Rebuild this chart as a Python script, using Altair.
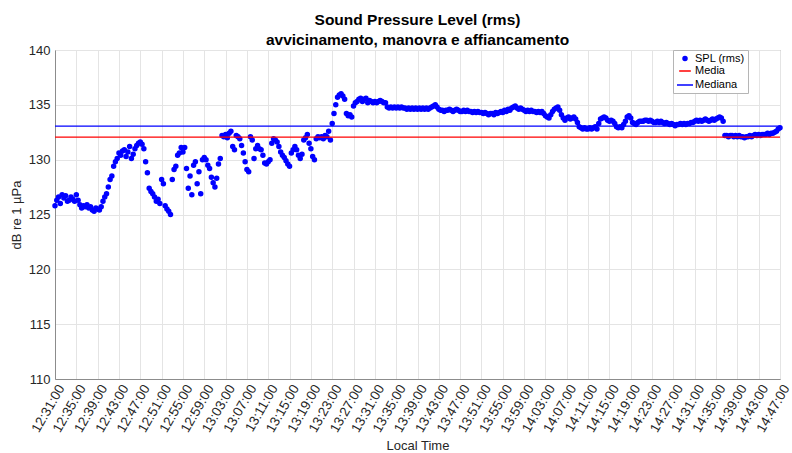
import altair as alt
import pandas as pd

# SPL (rms) readings in dB re 1 µPa, one sample every 20 s starting 12:31:00
spl_1231_1259 = [
    125.8, 126.3, 126.6, 126.0, 126.8, 126.5, 126.7, 126.2, 126.3, 126.6, 126.4, 126.2,
    126.8, 126.3, 125.9, 125.6, 125.8, 125.7, 125.9, 125.6, 125.7, 125.4, 125.3, 125.6,
    125.5, 125.4, 125.7, 126.2, 126.6, 126.9, 127.5, 128.2, 128.5, 129.4, 129.8, 130.1,
    130.6, 130.4, 130.8, 130.9, 130.3, 130.7, 131.2, 130.1, 130.5, 131.0, 131.3, 131.5,
    131.6, 131.4, 131.0, 129.8, 128.8, 127.4, 127.1, 126.9, 126.6, 126.2, 126.4, 126.0,
    128.2, 127.8, 125.8, 125.5, 125.3, 125.0, 128.2, 129.1, 129.4, 130.4, 130.6, 131.1,
    130.7, 131.1, 129.2, 127.4, 128.5, 126.8, 129.5, 129.8, 127.8, 128.9, 126.9, 130.0,
]
spl_1259_1327 = [
    130.2, 130.0, 129.5, 129.2, 128.4, 127.9, 127.5, 128.3, 129.6, 130.1, 132.2, 132.1,
    132.3, 132.0, 132.4, 132.6, 131.2, 130.9, 132.2, 132.1, 131.9, 131.3, 130.6, 129.8,
    129.1, 128.9, 132.1, 131.8, 130.1, 131.0, 131.3, 131.0, 130.9, 130.4, 129.7, 129.6,
    129.8, 130.0, 131.5, 131.9, 131.8, 131.6, 131.2, 130.7, 130.4, 130.2, 129.9, 129.6,
    129.4, 130.6, 130.9, 131.2, 130.9, 130.4, 130.1, 130.5, 131.8, 132.0, 132.3, 131.5,
    131.0, 130.3, 130.0, 131.9, 132.1, 132.0, 132.1, 131.9, 132.2, 132.1, 132.6, 131.8,
    133.3, 134.2, 135.0, 135.7, 135.9, 136.0, 135.8, 135.5, 134.2, 134.0, 134.1, 133.9,
]
spl_1327_1407 = [
    134.9, 135.2, 135.3, 135.5, 135.6, 135.3, 135.5, 135.6, 135.2, 135.4, 135.3, 135.2,
    135.3, 135.2, 135.3, 135.4, 135.3, 135.2, 135.2, 134.8, 134.7, 134.8, 134.7, 134.8,
    134.7, 134.8, 134.7, 134.8, 134.7, 134.7, 134.6, 134.7, 134.6, 134.7, 134.6, 134.7,
    134.6, 134.7, 134.6, 134.7, 134.6, 134.7, 134.6, 134.7, 134.8, 134.9, 135.0, 134.8,
    134.6, 134.5, 134.5, 134.4, 134.5, 134.5, 134.6, 134.5, 134.4, 134.5, 134.6, 134.5,
    134.4, 134.4, 134.5, 134.4, 134.5, 134.4, 134.4, 134.3, 134.4, 134.3, 134.4, 134.3,
    134.3, 134.2, 134.3, 134.2, 134.1, 134.2, 134.2, 134.1, 134.3, 134.2, 134.3, 134.4,
    134.3, 134.5, 134.4, 134.6, 134.5, 134.7, 134.8, 134.9, 134.7, 134.6, 134.7, 134.6,
    134.5, 134.4, 134.5, 134.4, 134.5, 134.4, 134.4, 134.3, 134.4, 134.3, 134.4, 134.2,
    134.0, 133.9, 133.8, 134.1, 134.4, 134.6, 134.7, 134.8, 134.5, 134.1, 133.8, 133.6,
]
spl_1407_1447 = [
    133.8, 133.9, 133.7, 133.8, 133.9, 133.7, 133.4, 133.0, 132.9, 132.8, 132.9, 132.8,
    132.8, 132.9, 132.8, 132.9, 133.0, 132.8, 133.3, 133.7, 133.8, 133.9, 133.8, 133.6,
    133.5, 133.6, 133.5, 133.3, 133.0, 132.9, 133.0, 132.9, 133.2, 133.5, 133.9, 134.0,
    133.8, 133.4, 133.3, 133.2, 133.4, 133.5, 133.5, 133.5, 133.6, 133.6, 133.5, 133.6,
    133.5, 133.4, 133.4, 133.5, 133.4, 133.5, 133.4, 133.3, 133.4, 133.3, 133.2, 133.3,
    133.2, 133.1, 133.2, 133.2, 133.3, 133.2, 133.3, 133.2, 133.3, 133.3, 133.4, 133.4,
    133.5, 133.6, 133.5, 133.6, 133.5, 133.6, 133.7, 133.6, 133.5, 133.6, 133.7, 133.6,
    133.7, 133.8, 133.9, 133.8, 133.5, 132.2, 132.2, 132.1, 132.2, 132.2, 132.1, 132.2,
    132.1, 132.2, 132.1, 132.1, 132.0, 132.1, 132.1, 132.2, 132.1, 132.2, 132.3, 132.2,
    132.3, 132.2, 132.3, 132.3, 132.3, 132.4, 132.3, 132.4, 132.4, 132.5, 132.6, 132.8,
    132.9,
]

SAMPLE_START = "2024-01-01 12:31:00"
SAMPLE_STEP = "20s"

# Reference levels
media_db = 132.05
mediana_db = 133.05

# Time axis ticks (every 4 minutes) and extent
tick_times = [
    "12:31", "12:35", "12:39", "12:43", "12:47", "12:51", "12:55", "12:59",
    "13:03", "13:07", "13:11", "13:15", "13:19", "13:23", "13:27", "13:31",
    "13:35", "13:39", "13:43", "13:47", "13:51", "13:55", "13:59", "14:03",
    "14:07", "14:11", "14:15", "14:19", "14:23", "14:27", "14:31", "14:35",
    "14:39", "14:43", "14:47",
]

FONT = "Liberation Sans"
TEXT = "#262626"

spl = spl_1231_1259 + spl_1259_1327 + spl_1327_1407 + spl_1407_1447
times = pd.date_range(SAMPLE_START, periods=len(spl), freq=SAMPLE_STEP)
points_df = pd.DataFrame({
    "time": times.strftime("%Y-%m-%dT%H:%M:%S"),
    "spl": spl,
    "series": "SPL (rms)",
})
levels_df = pd.DataFrame({
    "series": ["Media", "Mediana"],
    "spl": [media_db, mediana_db],
})


def dt(hhmm):
    h, m = hhmm.split(":")
    return alt.DateTime(year=2024, month=1, date=1, hours=int(h), minutes=int(m))


tick_values = [dt(t) for t in tick_times]
x_scale = alt.Scale(domain=[tick_values[0], tick_values[-1]], nice=False)
y_scale = alt.Scale(domain=[110, 140], nice=False, zero=False)

# One shared legend: a dot for the samples, short lines for the two levels
series_order = ["SPL (rms)", "Media", "Mediana"]
colors = ["#0000ff", "#ff0000", "#0000ff"]
fill_scale = alt.Scale(domain=series_order, range=colors)
stroke_scale = alt.Scale(domain=series_order, range=colors)
shape_scale = alt.Scale(domain=series_order, range=["circle", "stroke", "stroke"])
size_scale = alt.Scale(domain=series_order, range=[16, 256, 256])

legend = alt.Legend(
    title=None,
    orient="none",
    legendX=618,
    legendY=0,
    direction="vertical",
    fillColor="white",
    strokeColor="#b5b5b5",
    padding=3,
    rowPadding=-2,
    symbolStrokeWidth=1.5,
    symbolOpacity=1,
    labelOffset=1,
    labelFont=FONT,
    labelFontSize=11,
    labelColor="#000000",
)

x_enc = alt.X(
    "time:T",
    scale=x_scale,
    axis=alt.Axis(
        values=tick_values,
        format="%H:%M:%S",
        labelAngle=-60,
        labelAlign="right",
        labelBaseline="top",
        labelPadding=3,
        labelFontSize=13.5,
        labelOverlap=False,
        title="Local Time",
        titlePadding=5,
    ),
)
y_enc = alt.Y(
    "spl:Q",
    scale=y_scale,
    axis=alt.Axis(
        values=[110, 115, 120, 125, 130, 135, 140],
        title="dB re 1 µPa",
        labelPadding=5,
        titlePadding=5,
    ),
)

points = alt.Chart(points_df).mark_point(filled=True, strokeWidth=1.5, opacity=1).encode(
    x=x_enc,
    y=y_enc,
    fill=alt.Fill("series:N", scale=fill_scale, legend=legend),
    stroke=alt.Stroke("series:N", scale=stroke_scale, legend=legend),
    shape=alt.Shape("series:N", scale=shape_scale, legend=legend),
    size=alt.Size("series:N", scale=size_scale, legend=legend),
)

levels = alt.Chart(levels_df).mark_rule(strokeWidth=1.3).encode(
    y=alt.Y("spl:Q", scale=y_scale),
    stroke=alt.Stroke("series:N", scale=stroke_scale, legend=legend),
)

chart = (
    alt.layer(points, levels)
    .properties(
        width=725,
        height=329,
        padding={"left": 55, "top": 50, "right": 12, "bottom": 74},
        autosize=alt.AutoSizeParams(type="none"),
        title=alt.TitleParams(
            text=["Sound Pressure Level (rms)", "avvicinamento, manovra e affiancamento"],
            font=FONT,
            fontSize=15.5,
            fontWeight="bold",
            color="#000000",
            anchor="middle",
            lineHeight=20,
            offset=-4,
        ),
    )
    .configure(background="white")
    .configure_view(stroke="#8c8c8c", strokeWidth=1)
    .configure_axis(
        grid=True,
        gridColor="#e4e4e4",
        gridWidth=1,
        domainColor="#8c8c8c",
        ticks=False,
        labelFont=FONT,
        labelFontSize=13,
        labelColor=TEXT,
        titleFont=FONT,
        titleFontSize=13,
        titleFontWeight="normal",
        titleColor=TEXT,
    )
)

chart.save("out.html", embed_options={"renderer": "svg", "actions": False})
